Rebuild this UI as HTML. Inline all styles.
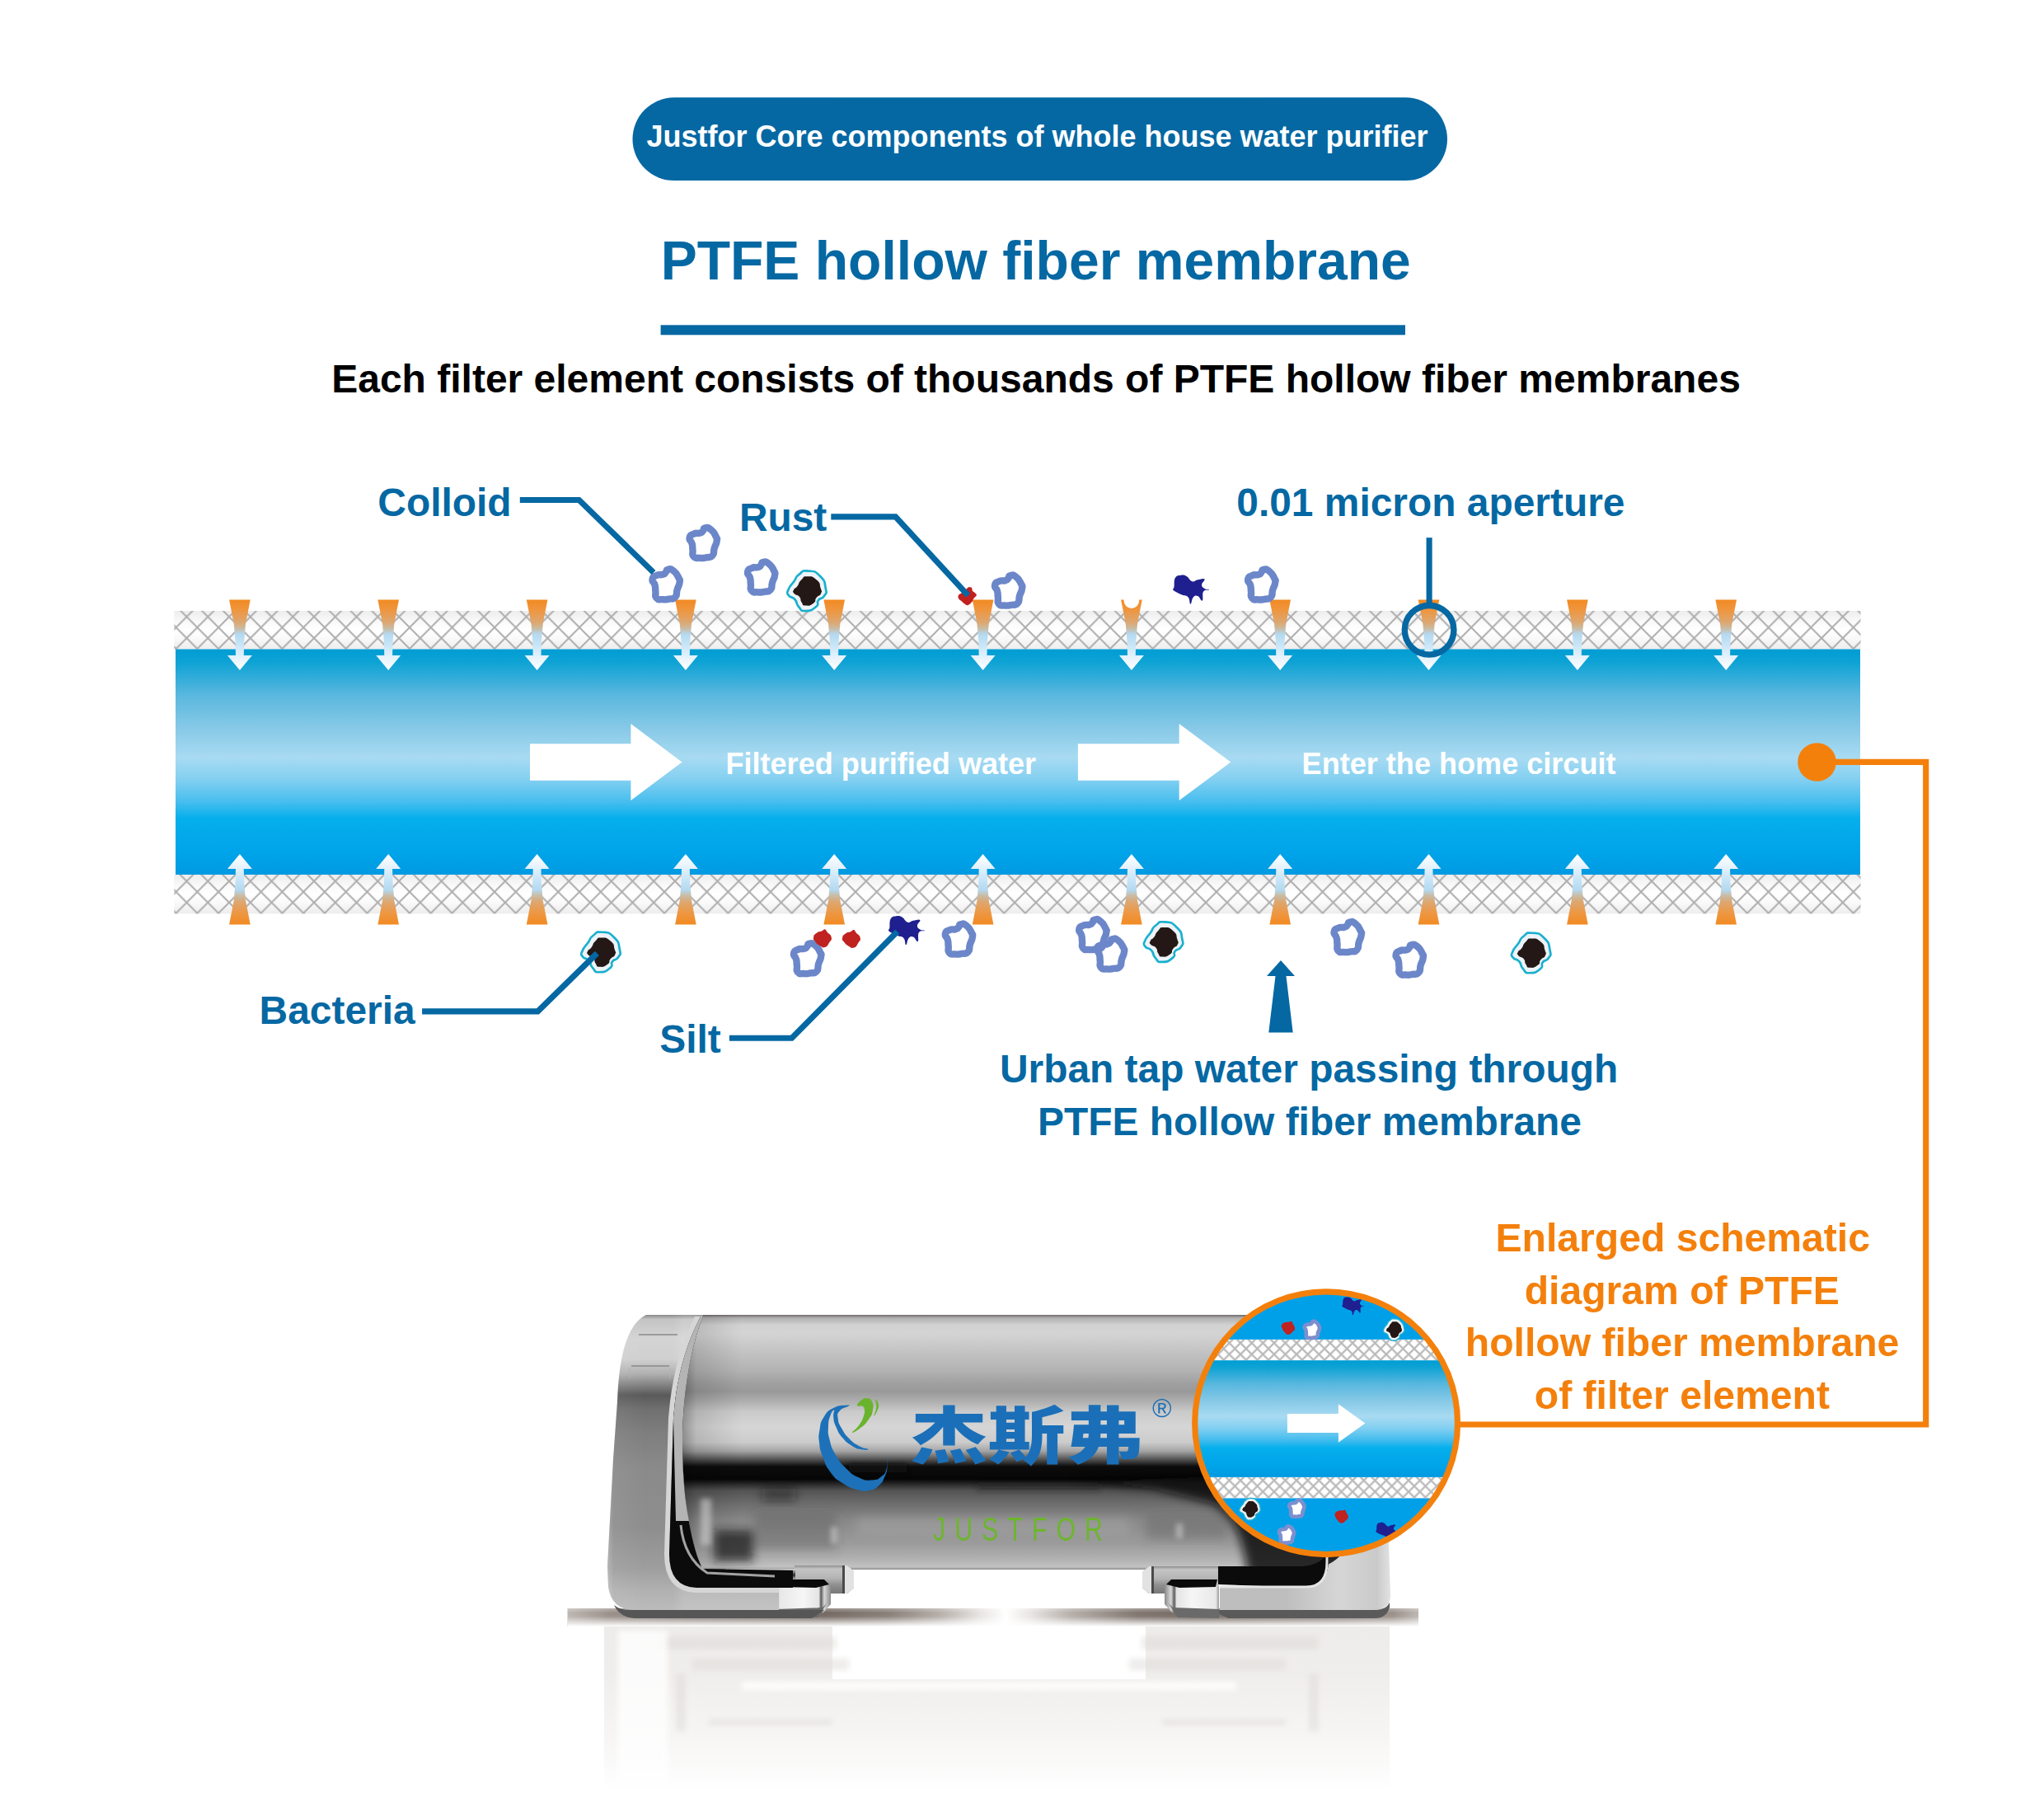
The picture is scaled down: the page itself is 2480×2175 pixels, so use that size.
<!DOCTYPE html>
<html><head><meta charset="utf-8"><title>PTFE hollow fiber membrane</title>
<style>html,body{margin:0;padding:0;background:#fff}body{width:2480px;height:2175px;overflow:hidden}
svg{display:block}text{font-family:"Liberation Sans","Noto Sans CJK SC",sans-serif;font-weight:bold}</style></head>
<body><svg width="2480" height="2175" viewBox="0 0 2480 2175">
<defs>
<path id="colloid" d="M2.66 -18.34 C5.95 -18.94 5.32 -19.73 9.59 -16.34 C13.87 -12.95 13.14 -12.82 15.48 -8.17 C17.83 -3.51 17.23 -7.22 16.62 -2.38 C16.02 2.47 15.42 0.51 13.68 6.37 C11.94 12.22 14.69 11.50 11.40 15.20 C8.11 18.90 9.06 16.53 3.80 17.48 C-1.46 18.43 0.70 18.43 -4.37 18.05 C-9.44 17.67 -8.68 19.63 -11.40 16.34 C-14.12 13.05 -11.87 13.43 -12.54 8.17 C-13.21 2.91 -12.13 5.42 -13.39 0.57 C-14.66 -4.27 -17.00 -2.47 -16.34 -6.37 C-15.67 -10.26 -15.58 -9.15 -11.40 -11.11 C-7.22 -13.08 -7.50 -11.11 -3.80 -12.25 C-0.10 -13.39 -2.44 -12.51 -0.28 -14.54 C1.87 -16.56 -0.63 -17.73 2.66 -18.34Z" fill="none" stroke="#6C87C9" stroke-width="8.4" stroke-linejoin="round"/>
<path id="colloidw" d="M2.66 -18.34 C5.95 -18.94 5.32 -19.73 9.59 -16.34 C13.87 -12.95 13.14 -12.82 15.48 -8.17 C17.83 -3.51 17.23 -7.22 16.62 -2.38 C16.02 2.47 15.42 0.51 13.68 6.37 C11.94 12.22 14.69 11.50 11.40 15.20 C8.11 18.90 9.06 16.53 3.80 17.48 C-1.46 18.43 0.70 18.43 -4.37 18.05 C-9.44 17.67 -8.68 19.63 -11.40 16.34 C-14.12 13.05 -11.87 13.43 -12.54 8.17 C-13.21 2.91 -12.13 5.42 -13.39 0.57 C-14.66 -4.27 -17.00 -2.47 -16.34 -6.37 C-15.67 -10.26 -15.58 -9.15 -11.40 -11.11 C-7.22 -13.08 -7.50 -11.11 -3.80 -12.25 C-0.10 -13.39 -2.44 -12.51 -0.28 -14.54 C1.87 -16.56 -0.63 -17.73 2.66 -18.34Z" fill="#fff" stroke="#7C8FCF" stroke-width="8.6" stroke-linejoin="round"/>
<g id="bac"><path d="M1.17 -24.27 C9.65 -23.61 8.55 -24.92 15.66 -18.00 C22.77 -11.09 20.81 -11.61 22.51 -3.52 C24.20 4.57 23.68 1.30 20.74 6.26 C17.81 11.22 16.96 7.05 13.70 11.35 C10.44 15.66 16.18 14.87 10.96 19.18 C5.74 23.48 5.09 24.27 -1.96 24.27 C-9.00 24.27 -5.87 23.88 -10.18 19.18 C-14.48 14.48 -10.83 14.74 -14.87 10.18 C-18.92 5.61 -19.70 9.39 -22.31 5.48 C-24.92 1.57 -24.92 4.17 -22.70 -1.57 C-20.48 -7.31 -19.96 -5.61 -15.66 -11.74 C-11.35 -17.87 -15.40 -15.79 -9.79 -19.96 C-4.17 -24.14 -7.31 -24.92 1.17 -24.27Z" fill="#EEF3F8" stroke="#1BB0CE" stroke-width="2.7"/><path d="M0.39 -17.61 C6.65 -17.61 6.39 -18.00 11.74 -13.31 C17.09 -8.61 14.74 -9.00 16.44 -3.52 C18.13 1.96 18.53 -0.78 16.83 3.13 C15.13 7.05 14.35 4.31 11.35 8.22 C8.35 12.13 12.26 11.68 7.83 14.87 C3.39 18.07 2.87 18.20 -1.96 17.81 C-6.78 17.42 -4.17 17.29 -6.65 13.70 C-9.13 10.11 -6.39 10.57 -9.39 7.05 C-12.39 3.52 -13.44 6.00 -15.66 3.13 C-17.87 0.26 -17.35 1.44 -16.05 -1.57 C-14.74 -4.57 -14.74 -1.96 -11.74 -5.87 C-8.74 -9.79 -11.09 -9.39 -7.05 -13.31 C-3.00 -17.22 -5.87 -17.61 0.39 -17.61Z" fill="#231815"/></g>
<path id="silt" d="M-19.20 -2.70 C-18.55 -5.99 -19.77 -10.24 -17.80 -13.70 C-15.83 -17.16 -14.29 -16.60 -11.00 -17.10 C-7.71 -17.60 -7.39 -17.60 -4.10 -15.80 C-0.81 -14.00 -0.59 -10.61 2.70 -9.60 C5.99 -8.59 5.98 -10.95 9.60 -11.60 C13.22 -12.25 16.65 -13.76 17.80 -12.30 C18.95 -10.84 14.40 -8.28 14.40 -5.50 C14.40 -2.72 15.66 -2.19 17.80 -0.70 C19.94 0.79 23.64 -0.12 23.30 0.70 C22.96 1.52 18.37 -0.42 16.40 2.70 C14.43 5.82 16.73 12.38 15.10 13.70 C13.47 15.02 12.24 9.18 9.60 8.20 C6.96 7.22 6.24 7.30 4.10 9.60 C1.96 11.90 2.19 17.80 0.70 17.80 C-0.79 17.80 0.37 12.24 -2.10 9.60 C-4.57 6.96 -5.83 8.46 -9.60 6.80 C-13.37 5.14 -15.18 4.33 -17.80 2.70 C-20.42 1.07 -20.16 1.30 -20.50 0.00 C-20.84 -1.30 -19.85 0.59 -19.20 -2.70Z" fill="#1F1F8F"/>
<path id="rust" d="M2.70 -11.00 C4.25 -11.00 4.69 -10.92 5.60 -9.80 C6.51 -8.68 5.06 -8.37 6.10 -6.80 C7.14 -5.23 8.19 -5.45 9.50 -3.90 C10.81 -2.35 11.51 -2.81 11.00 -1.00 C10.49 0.81 9.17 0.69 7.60 2.90 C6.03 5.11 6.94 5.19 5.10 7.30 C3.26 9.41 2.91 10.27 0.70 10.80 C-1.51 11.33 -1.12 10.61 -3.20 9.30 C-5.28 7.99 -5.15 7.61 -7.10 5.90 C-9.05 4.19 -9.51 4.74 -10.50 2.90 C-11.49 1.06 -11.44 0.68 -10.80 -1.00 C-10.16 -2.68 -10.13 -2.09 -8.10 -3.40 C-6.07 -4.71 -5.31 -4.19 -3.20 -5.90 C-1.09 -7.61 -1.77 -8.44 -0.20 -9.80 C1.37 -11.16 1.15 -11.00 2.70 -11.00Z" fill="#C0201E"/>
<path id="rust2" d="M3.20 -10.80 C5.09 -10.41 3.42 -10.45 5.70 -7.60 C7.98 -4.75 10.02 -5.11 10.80 -1.30 C11.58 2.51 10.58 1.47 8.30 5.10 C6.02 8.73 6.65 9.66 3.20 10.80 C-0.25 11.94 0.43 11.00 -3.20 8.90 C-6.83 6.80 -6.62 6.86 -8.90 3.80 C-11.18 0.74 -11.37 1.76 -10.80 -1.30 C-10.23 -4.36 -10.06 -4.12 -7.00 -6.40 C-3.94 -8.68 -3.66 -7.58 -0.60 -8.90 C2.46 -10.22 1.31 -11.19 3.20 -10.80Z" fill="#BF221F"/>
<pattern id="meshT" patternUnits="userSpaceOnUse" x="265.12" y="735.25" width="25.761" height="25.900"><path d="M0 0L25.761 25.900M25.761 0L0 25.900" stroke="#AEAEAE" stroke-width="2.0" fill="none"/></pattern>
<pattern id="meshB" patternUnits="userSpaceOnUse" x="265.12" y="1055.95" width="25.761" height="25.900"><path d="M0 0L25.761 25.900M25.761 0L0 25.900" stroke="#AEAEAE" stroke-width="2.0" fill="none"/></pattern>
<linearGradient id="bandbg" x1="0" y1="0" x2="0" y2="1"><stop offset="0" stop-color="#EDEDED"/><stop offset=".3" stop-color="#FAFAFA"/><stop offset=".5" stop-color="#FFFFFF"/><stop offset=".7" stop-color="#FAFAFA"/><stop offset="1" stop-color="#EDEDED"/></linearGradient>
<linearGradient id="pipe" x1="0" y1="0" x2="0" y2="1">
<stop offset="0" stop-color="#009DD3"/><stop offset=".06" stop-color="#0FA3D5"/><stop offset=".2" stop-color="#58B7DE"/>
<stop offset=".35" stop-color="#87C9E7"/><stop offset=".48" stop-color="#A8DBF2"/><stop offset=".58" stop-color="#82CFF1"/>
<stop offset=".68" stop-color="#45BDEE"/><stop offset=".75" stop-color="#05AFEC"/><stop offset=".9" stop-color="#00A4E9"/><stop offset="1" stop-color="#009AE2"/></linearGradient>
<linearGradient id="inT" gradientUnits="userSpaceOnUse" x1="0" y1="727.6" x2="0" y2="813">
<stop offset="0" stop-color="#F28A22"/><stop offset=".15" stop-color="#EE9640"/><stop offset=".32" stop-color="#DDA770"/><stop offset=".41" stop-color="#C9BCA6"/>
<stop offset=".49" stop-color="#B4D9F0"/><stop offset=".65" stop-color="#C9E6F8"/><stop offset=".82" stop-color="#E6F3FC"/><stop offset="1" stop-color="#FFFFFF"/></linearGradient>
<linearGradient id="cyl" gradientUnits="userSpaceOnUse" x1="0" y1="1595" x2="0" y2="1904"><stop offset="0" stop-color="#6E6868"/><stop offset="0.012" stop-color="#B0B0B0"/><stop offset="0.04" stop-color="#D2D2D2"/><stop offset="0.075" stop-color="#D4D4D4"/><stop offset="0.14" stop-color="#C4C4C4"/><stop offset="0.22" stop-color="#B2B2B2"/><stop offset="0.27" stop-color="#A0A0A0"/><stop offset="0.3" stop-color="#999999"/><stop offset="0.335" stop-color="#ACACAC"/><stop offset="0.38" stop-color="#CACACA"/><stop offset="0.44" stop-color="#D6D6D6"/><stop offset="0.5" stop-color="#CCCCCC"/><stop offset="0.535" stop-color="#A4A4A4"/><stop offset="0.567" stop-color="#545454"/><stop offset="0.595" stop-color="#0C0C0C"/><stop offset="0.645" stop-color="#060606"/><stop offset="0.665" stop-color="#2A2A2A"/><stop offset="0.69" stop-color="#545454"/><stop offset="0.75" stop-color="#717171"/><stop offset="0.81" stop-color="#8A8A8A"/><stop offset="0.9" stop-color="#9C9C9C"/><stop offset="0.96" stop-color="#B2B2B2"/><stop offset="0.99" stop-color="#C2C2C2"/><stop offset="1" stop-color="#8A8A8A"/></linearGradient>
<linearGradient id="cylEnd" gradientUnits="userSpaceOnUse" x1="826" y1="0" x2="900" y2="0">
<stop offset="0" stop-color="#000" stop-opacity=".35"/><stop offset=".25" stop-color="#000" stop-opacity=".12"/><stop offset="1" stop-color="#000" stop-opacity="0"/></linearGradient>
<linearGradient id="brkL" gradientUnits="userSpaceOnUse" x1="0" y1="1595" x2="0" y2="1953">
<stop offset="0" stop-color="#8A8A8A"/><stop offset=".015" stop-color="#C4C4C4"/><stop offset=".08" stop-color="#D4D4D4"/><stop offset=".15" stop-color="#D0D0D0"/>
<stop offset=".2" stop-color="#B0B0B0"/><stop offset=".24" stop-color="#808080"/><stop offset=".272" stop-color="#5A5A5A"/><stop offset=".32" stop-color="#707070"/>
<stop offset=".4" stop-color="#7E7E7E"/><stop offset=".52" stop-color="#8A8A8A"/><stop offset=".72" stop-color="#8E8E8E"/><stop offset=".86" stop-color="#9E9E9E"/><stop offset=".93" stop-color="#B0B0B0"/><stop offset="1" stop-color="#BCBCBC"/></linearGradient>
<linearGradient id="brkLh" gradientUnits="userSpaceOnUse" x1="735" y1="0" x2="830" y2="0">
<stop offset="0" stop-color="#fff" stop-opacity=".3"/><stop offset=".1" stop-color="#fff" stop-opacity=".06"/><stop offset=".5" stop-color="#fff" stop-opacity="0"/>
<stop offset=".85" stop-color="#fff" stop-opacity="0"/><stop offset="1" stop-color="#fff" stop-opacity=".12"/></linearGradient>
<linearGradient id="brkR" gradientUnits="userSpaceOnUse" x1="1560" y1="0" x2="1690" y2="0">
<stop offset="0" stop-color="#BEBEBE"/><stop offset=".5" stop-color="#D6D6D6"/><stop offset=".85" stop-color="#CACACA"/><stop offset="1" stop-color="#E6E6E6"/></linearGradient>
<linearGradient id="chrome" x1="0" y1="0" x2="0" y2="1">
<stop offset="0" stop-color="#F2F2F2"/><stop offset=".35" stop-color="#B8B8B8"/><stop offset=".6" stop-color="#E0E0E0"/><stop offset="1" stop-color="#6A6A6A"/></linearGradient>
<linearGradient id="chromeD" x1="0" y1="0" x2="0" y2="1">
<stop offset="0" stop-color="#D8D8D8"/><stop offset=".3" stop-color="#303030"/><stop offset=".55" stop-color="#C0C0C0"/><stop offset="1" stop-color="#505050"/></linearGradient>
<linearGradient id="floor" gradientUnits="userSpaceOnUse" x1="688.5" y1="0" x2="1721" y2="0"><stop offset="0.0000" stop-color="#BDB6B1"/><stop offset="0.0499" stop-color="#9A908A"/><stop offset="0.1564" stop-color="#857A74"/><stop offset="0.3017" stop-color="#746962"/><stop offset="0.3792" stop-color="#8A807A"/><stop offset="0.4373" stop-color="#B5AEA9"/><stop offset="0.4857" stop-color="#E8E5E3"/><stop offset="0.5148" stop-color="#FFFFFF"/><stop offset="0.5438" stop-color="#E8E5E3"/><stop offset="0.5923" stop-color="#B5AEA9"/><stop offset="0.6697" stop-color="#80756F"/><stop offset="0.7375" stop-color="#746962"/><stop offset="0.8828" stop-color="#857A74"/><stop offset="0.9700" stop-color="#9A908A"/><stop offset="1.0000" stop-color="#BDB6B1"/></linearGradient>
<linearGradient id="floorfade" x1="0" y1="0" x2="0" y2="1">
<stop offset="0" stop-color="#fff" stop-opacity=".3"/><stop offset=".25" stop-color="#fff" stop-opacity="0"/><stop offset=".45" stop-color="#fff" stop-opacity=".05"/><stop offset="1" stop-color="#fff" stop-opacity="1"/></linearGradient>
<linearGradient id="refl" gradientUnits="userSpaceOnUse" x1="0" y1="1972" x2="0" y2="2172">
<stop offset="0" stop-color="#EEECEA"/><stop offset=".3" stop-color="#F0EEEC"/><stop offset=".7" stop-color="#F7F6F5"/><stop offset="1" stop-color="#FFFFFF"/></linearGradient>
<linearGradient id="footB" x1="0" y1="0" x2="0" y2="1">
<stop offset="0" stop-color="#8E8E8E"/><stop offset=".12" stop-color="#C4C4C4"/><stop offset=".45" stop-color="#B4B4B4"/><stop offset=".7" stop-color="#8E8E8E"/><stop offset="1" stop-color="#787878"/></linearGradient>
<linearGradient id="footF" x1="0" y1="0" x2="1" y2="0">
<stop offset="0" stop-color="#9A9A9A"/><stop offset=".06" stop-color="#E8E8E8"/><stop offset=".5" stop-color="#F6F6F6"/><stop offset=".78" stop-color="#E4E4E4"/><stop offset=".82" stop-color="#5A5A5A"/><stop offset=".88" stop-color="#D8D8D8"/><stop offset="1" stop-color="#8A8A8A"/></linearGradient>
<filter id="b3" x="-20%" y="-50%" width="140%" height="200%"><feGaussianBlur stdDeviation="3"/></filter>
<filter id="b6" x="-20%" y="-50%" width="140%" height="200%"><feGaussianBlur stdDeviation="6"/></filter>
<filter id="b2" x="-20%" y="-50%" width="140%" height="200%"><feGaussianBlur stdDeviation="1.6"/></filter>
<clipPath id="cclip"><circle cx="1609.1" cy="1726.2" r="159.4"/></clipPath>
<pattern id="meshS" patternUnits="userSpaceOnUse" x="1498.30" y="1636.00" width="13.600" height="13.700"><path d="M0 0L13.600 13.700M13.600 0L0 13.700" stroke="#BABABA" stroke-width="2.3" fill="none"/></pattern>
<pattern id="meshS2" patternUnits="userSpaceOnUse" x="1498.30" y="1802.70" width="13.600" height="13.700"><path d="M0 0L13.600 13.700M13.600 0L0 13.700" stroke="#BABABA" stroke-width="2.3" fill="none"/></pattern>
</defs>
<rect x="767.5" y="118.3" width="988.5" height="100.8" rx="50.4" fill="#0568A3"/>
<text x="1258.5" y="178.4" font-size="36" fill="#fff" text-anchor="middle">Justfor Core components of whole house water purifier</text>
<text x="1256.7" y="339.4" font-size="66.05" fill="#0568A3" text-anchor="middle">PTFE hollow fiber membrane</text>
<rect x="801.6" y="394.3" width="903.4" height="12" fill="#0568A3"/>
<text x="1257" y="476.2" font-size="48" fill="#000" text-anchor="middle">Each filter element consists of thousands of PTFE hollow fiber membranes</text>
<rect x="211.3" y="741.0" width="2046.2" height="46.5" fill="url(#bandbg)"/>
<rect x="211.3" y="741.0" width="2046.2" height="46.5" fill="url(#meshT)"/>
<rect x="211.3" y="1061.0" width="2046.2" height="47.3" fill="url(#bandbg)"/>
<rect x="211.3" y="1061.0" width="2046.2" height="47.3" fill="url(#meshB)"/>
<rect x="213.0" y="787.5" width="2044.0" height="273.5" fill="url(#pipe)"/>
<g fill="url(#inT)"><path d="M278.1 727.6 L303.7 727.6 L298.0 757 L296.2 778.5 L295.8 795.1 L305.9 795.1 L290.9 812.9 L275.9 795.1 L286.0 795.1 L285.6 778.5 L283.8 757Z"/><path d="M458.4 727.6 L484.0 727.6 L478.3 757 L476.5 778.5 L476.1 795.1 L486.2 795.1 L471.2 812.9 L456.2 795.1 L466.3 795.1 L465.9 778.5 L464.1 757Z"/><path d="M638.8 727.6 L664.4 727.6 L658.7 757 L656.9 778.5 L656.5 795.1 L666.6 795.1 L651.6 812.9 L636.6 795.1 L646.7 795.1 L646.3 778.5 L644.5 757Z"/><path d="M819.1 727.6 L844.7 727.6 L839.0 757 L837.2 778.5 L836.8 795.1 L846.9 795.1 L831.9 812.9 L816.9 795.1 L827.0 795.1 L826.6 778.5 L824.8 757Z"/><path d="M999.4 727.6 L1025.0 727.6 L1019.3 757 L1017.5 778.5 L1017.1 795.1 L1027.2 795.1 L1012.2 812.9 L997.2 795.1 L1007.3 795.1 L1006.9 778.5 L1005.1 757Z"/><path d="M1179.8 727.6 L1205.4 727.6 L1199.7 757 L1197.9 778.5 L1197.5 795.1 L1207.6 795.1 L1192.6 812.9 L1177.6 795.1 L1187.7 795.1 L1187.3 778.5 L1185.5 757Z"/><path d="M1360.1 727.6 L1363.4 727.6 A9.5 10.5 0 0 0 1382.4 727.6 L1385.7 727.6 L1380.0 757 L1378.2 778.5 L1377.8 795.1 L1387.9 795.1 L1372.9 812.9 L1357.9 795.1 L1368.0 795.1 L1367.6 778.5 L1365.8 757Z"/><path d="M1540.4 727.6 L1566.0 727.6 L1560.3 757 L1558.5 778.5 L1558.1 795.1 L1568.2 795.1 L1553.2 812.9 L1538.2 795.1 L1548.3 795.1 L1547.9 778.5 L1546.1 757Z"/><path d="M1720.7 727.6 L1746.3 727.6 L1740.6 757 L1738.8 778.5 L1738.4 795.1 L1748.5 795.1 L1733.5 812.9 L1718.5 795.1 L1728.6 795.1 L1728.2 778.5 L1726.4 757Z"/><path d="M1901.1 727.6 L1926.7 727.6 L1921.0 757 L1919.2 778.5 L1918.8 795.1 L1928.9 795.1 L1913.9 812.9 L1898.9 795.1 L1909.0 795.1 L1908.6 778.5 L1906.8 757Z"/><path d="M2081.4 727.6 L2107.0 727.6 L2101.3 757 L2099.5 778.5 L2099.1 795.1 L2109.2 795.1 L2094.2 812.9 L2079.2 795.1 L2089.3 795.1 L2088.9 778.5 L2087.1 757Z"/></g>
<g fill="url(#inT)" transform="translate(0 1849) scale(1 -1)"><path d="M278.1 727.6 L303.7 727.6 L298.0 757 L296.2 778.5 L295.8 795.1 L305.9 795.1 L290.9 812.9 L275.9 795.1 L286.0 795.1 L285.6 778.5 L283.8 757Z"/><path d="M458.4 727.6 L484.0 727.6 L478.3 757 L476.5 778.5 L476.1 795.1 L486.2 795.1 L471.2 812.9 L456.2 795.1 L466.3 795.1 L465.9 778.5 L464.1 757Z"/><path d="M638.8 727.6 L664.4 727.6 L658.7 757 L656.9 778.5 L656.5 795.1 L666.6 795.1 L651.6 812.9 L636.6 795.1 L646.7 795.1 L646.3 778.5 L644.5 757Z"/><path d="M819.1 727.6 L844.7 727.6 L839.0 757 L837.2 778.5 L836.8 795.1 L846.9 795.1 L831.9 812.9 L816.9 795.1 L827.0 795.1 L826.6 778.5 L824.8 757Z"/><path d="M999.4 727.6 L1025.0 727.6 L1019.3 757 L1017.5 778.5 L1017.1 795.1 L1027.2 795.1 L1012.2 812.9 L997.2 795.1 L1007.3 795.1 L1006.9 778.5 L1005.1 757Z"/><path d="M1179.8 727.6 L1205.4 727.6 L1199.7 757 L1197.9 778.5 L1197.5 795.1 L1207.6 795.1 L1192.6 812.9 L1177.6 795.1 L1187.7 795.1 L1187.3 778.5 L1185.5 757Z"/><path d="M1360.1 727.6 L1385.7 727.6 L1380.0 757 L1378.2 778.5 L1377.8 795.1 L1387.9 795.1 L1372.9 812.9 L1357.9 795.1 L1368.0 795.1 L1367.6 778.5 L1365.8 757Z"/><path d="M1540.4 727.6 L1566.0 727.6 L1560.3 757 L1558.5 778.5 L1558.1 795.1 L1568.2 795.1 L1553.2 812.9 L1538.2 795.1 L1548.3 795.1 L1547.9 778.5 L1546.1 757Z"/><path d="M1720.7 727.6 L1746.3 727.6 L1740.6 757 L1738.8 778.5 L1738.4 795.1 L1748.5 795.1 L1733.5 812.9 L1718.5 795.1 L1728.6 795.1 L1728.2 778.5 L1726.4 757Z"/><path d="M1901.1 727.6 L1926.7 727.6 L1921.0 757 L1919.2 778.5 L1918.8 795.1 L1928.9 795.1 L1913.9 812.9 L1898.9 795.1 L1909.0 795.1 L1908.6 778.5 L1906.8 757Z"/><path d="M2081.4 727.6 L2107.0 727.6 L2101.3 757 L2099.5 778.5 L2099.1 795.1 L2109.2 795.1 L2094.2 812.9 L2079.2 795.1 L2089.3 795.1 L2088.9 778.5 L2087.1 757Z"/></g>
<path d="M643 902.2L765.4 902.2L765.4 878.0L827.5 924.5L765.4 971.0L765.4 946.8L643 946.8Z" fill="#fff"/>
<path d="M1307.9 902.2L1430.7 902.2L1430.7 878.0L1493.3 924.5L1430.7 971.0L1430.7 946.8L1307.9 946.8Z" fill="#fff"/>
<text x="880.5" y="939.3" font-size="36.05" fill="#fff">Filtered purified water</text>
<text x="1579.6" y="939.2" font-size="36.1" fill="#fff">Enter the home circuit</text>
<use href="#colloid" transform="translate(807.9 709.1)"/>
<use href="#colloid" transform="translate(853.0 658.8)"/>
<use href="#colloid" transform="translate(923.4 700.3)"/>
<use href="#colloid" transform="translate(1223.4 716.4)"/>
<use href="#colloid" transform="translate(1530.5 709.3)"/>
<use href="#bac" transform="translate(979.2 716.8)"/>
<use href="#rust" transform="translate(1173.7 723.3)"/>
<use href="#silt" transform="translate(1443.7 714.8)"/>
<use href="#bac" transform="translate(729.3 1155.0)"/>
<use href="#colloid" transform="translate(979.4 1163.0)"/>
<use href="#rust2" transform="translate(997.9 1138.2)"/>
<use href="#rust2" transform="translate(1032.9 1138.8)"/>
<use href="#silt" transform="translate(1098.5 1128.3)"/>
<use href="#colloid" transform="translate(1163.2 1139.4)"/>
<use href="#colloid" transform="translate(1325.6 1133.9)"/>
<use href="#colloid" transform="translate(1347.3 1157.4)"/>
<use href="#bac" transform="translate(1411.9 1142.7)"/>
<use href="#colloid" transform="translate(1635.0 1136.9)"/>
<use href="#colloid" transform="translate(1710.0 1164.5)"/>
<use href="#bac" transform="translate(1858.0 1156.0)"/>
<g fill="none" stroke="#0568A3" stroke-width="7.1"><path d="M630.8 606.5L702.5 606.5L793 694.5"/><path d="M1008.3 626.9L1086.5 626.9L1174.6 722.3"/><path d="M1734.1 652.2L1734.1 735"/><path d="M512.1 1226.9L652.5 1226.9L724.4 1156.4"/><path d="M884.9 1259.2L960.7 1259.2L1088.8 1129.9"/></g>
<circle cx="1734.1" cy="764.3" r="29.8" fill="none" stroke="#0568A3" stroke-width="7.4"/>
<g font-size="47.9" fill="#0568A3"><text x="458.3" y="626.3">Colloid</text><text x="896.9" y="643.5">Rust</text><text x="1500.3" y="626">0.01 micron aperture</text><text x="314.6" y="1241.5">Bacteria</text><text x="800.3" y="1277.3">Silt</text><text x="1588.1" y="1313.4" text-anchor="middle">Urban tap water passing through</text><text x="1589" y="1377" text-anchor="middle">PTFE hollow fiber membrane</text></g>
<path d="M1554 1165L1571 1184L1560.5 1184L1568.7 1252.5L1539.3 1252.5L1547.5 1184L1537 1184Z" fill="#0568A3"/>
<path d="M733 1973L1010 1973L1010 2037L1390 2037L1390 1973L1686 1973L1686 2172L733 2172Z" fill="url(#refl)"/>
<g filter="url(#b3)" fill="#DAD7D4" opacity=".45"><rect x="800" y="1985" width="215" height="16"/><rect x="840" y="2012" width="190" height="14"/><rect x="1385" y="1985" width="215" height="16"/><rect x="1370" y="2012" width="190" height="14"/><rect x="820" y="2030" width="12" height="70"/><rect x="1588" y="2030" width="12" height="70"/><rect x="860" y="2085" width="150" height="8"/><rect x="1410" y="2085" width="150" height="8"/></g>
<g filter="url(#b3)" fill="#fff" opacity=".8"><rect x="750" y="1978" width="60" height="180"/><rect x="900" y="2040" width="600" height="10"/></g>
<rect x="688.5" y="1951" width="1032.5" height="22" fill="url(#floor)"/>
<rect x="688.5" y="1951" width="1032.5" height="22" fill="url(#floorfade)"/>
<path d="M1560 1595L1650 1595Q1676 1600 1678 1640L1687 1935Q1687 1952 1668 1953L1480 1953L1480 1925L1585 1925Q1610 1925 1610 1895Z" fill="url(#brkR)"/>
<path d="M1470 1953L1672 1953Q1682 1952 1686 1944L1686 1950Q1682 1963 1668 1963L1490 1963Z" fill="#5A5A5A"/>
<path d="M852 1595L1640 1595L1640 1850Q1636 1904 1578 1904L852 1904C838 1880 827 1820 827 1750C827 1690 838 1630 852 1595Z" fill="url(#cyl)"/>
<path d="M852 1595L1640 1595L1640 1850Q1636 1904 1578 1904L852 1904C838 1880 827 1820 827 1750C827 1690 838 1630 852 1595Z" fill="url(#cylEnd)"/>
<g filter="url(#b6)"><rect x="866" y="1856" width="48" height="38" fill="#1E1E1E" opacity=".75"/><rect x="915" y="1836" width="100" height="44" fill="#4A4A4A" opacity=".3"/><rect x="1040" y="1840" width="330" height="22" fill="#B0B0B0" opacity=".35"/><rect x="1390" y="1838" width="100" height="30" fill="#5A5A5A" opacity=".35"/><rect x="925" y="1806" width="40" height="14" fill="#101010" opacity=".5"/></g>
<g filter="url(#b3)" fill="#D0D0D0" opacity=".6"><rect x="850" y="1818" width="13" height="56"/><rect x="1008" y="1852" width="8" height="20"/><rect x="1427" y="1848" width="8" height="18"/></g>
<defs><clipPath id="cylclip"><path d="M852 1595L1640 1595L1640 1850Q1636 1904 1578 1904L852 1904C838 1880 827 1820 827 1750C827 1690 838 1630 852 1595Z"/></clipPath></defs>
<g clip-path="url(#cylclip)"><path d="M1300 1797L1400 1806L1470 1824Q1506 1842 1514 1912L1660 1912L1660 1785Z" fill="#0A0A0A" opacity=".85" filter="url(#b6)"/></g>
<g filter="url(#b3)"><rect x="1030" y="1776" width="70" height="10" fill="#111" opacity=".7"/><rect x="1185" y="1800" width="150" height="8" fill="#222" opacity=".5"/></g>
<path d="M964 1899L1028 1899L1036 1906L1036 1926L1028 1933L964 1933Z" fill="url(#footB)"/>
<path d="M1024 1899L1028 1899L1036 1906L1036 1926L1028 1933L1024 1933Z" fill="#E2E2E2"/><path d="M1022 1899L1025 1899L1025 1933L1022 1933Z" fill="#4A4A4A"/>
<path d="M880 1903L965 1903L965 1921L880 1928Z" fill="url(#chromeD)"/>
<path d="M942 1926L944 1916L1000 1916L1008 1924L1008 1946L998 1957L942 1953Z" fill="url(#footF)"/>
<path d="M944 1916L1000 1916L1006 1922L990 1926L946 1925Z" fill="#0A0A0A"/>
<path d="M942 1952L998 1950L1003 1945L992 1962L942 1963Z" fill="#6A6A6A"/>
<path d="M778 1595L853 1595C839 1630 828 1690 828 1750C828 1800 834 1850 846 1888L852 1905L850 1926L945 1926L945 1953L768 1953Q742 1952 738 1925L737 1900L744 1770L749 1700Q752 1610 784 1595Z" fill="url(#brkL)"/>
<path d="M778 1595L853 1595C839 1630 828 1690 828 1750C828 1800 834 1850 846 1888L852 1905L850 1926L945 1926L945 1953L768 1953Q742 1952 738 1925L737 1900L744 1770L749 1700Q752 1610 784 1595Z" fill="url(#brkLh)"/>
<path d="M850 1597C834 1628 824 1660 819 1700L817 1720L812 1885Q812 1925 845 1926L945 1926L945 1932L843 1932Q806 1930 806 1885L811 1720L813 1700C818 1660 828 1628 843 1597Z" fill="#D6D6D6"/>
<path d="M853 1597C839 1630 828 1690 828 1750C828 1800 834 1850 846 1888L852 1903L962 1905L962 1926L845 1926Q812 1925 812 1885L817 1720L819 1700C824 1660 834 1628 850 1597Z" fill="#0B0B0B"/>
<path d="M853 1597C839 1630 828 1690 828 1750C828 1790 831 1820 836 1845L820 1845L817 1720L819 1700C824 1660 834 1628 850 1597Z" fill="#B4B4B4"/>
<path d="M826 1850Q830 1890 858 1908L940 1912" fill="none" stroke="#C8C8C8" stroke-width="3" opacity=".8"/>
<path d="M745 1947Q752 1953 765 1953L1000 1953L985 1963L770 1963Q752 1962 745 1947Z" fill="#565656"/>
<g stroke="#8A8A8A" stroke-width="1.6" fill="none"><path d="M775 1619L822 1619"/><path d="M766 1657L812 1657"/><path d="M764 1659L764 1672M813 1659L813 1672" stroke="#B2B2B2" stroke-width="1"/></g>
<path d="M1478 1900L1394 1900L1386 1907L1386 1926L1394 1933L1478 1933Z" fill="url(#footB)"/>
<path d="M1398 1900L1394 1900L1386 1907L1386 1926L1394 1933L1398 1933Z" fill="#E2E2E2"/><path d="M1397 1900L1400 1900L1400 1933L1397 1933Z" fill="#4A4A4A"/>
<path d="M1478 1900L1580 1900Q1606 1898 1612 1880L1612 1895Q1610 1925 1585 1926L1478 1922Z" fill="#0B0B0B"/>
<path d="M1480 1925L1585 1925Q1610 1925 1610 1895L1610 1880" fill="none" stroke="#E4E4E4" stroke-width="3"/>
<g transform="translate(2421 0) scale(-1 1)"><path d="M942 1926L944 1916L1000 1916L1008 1924L1008 1946L998 1957L942 1953Z" fill="url(#footF)"/><path d="M944 1916L1000 1916L1006 1922L990 1926L946 1925Z" fill="#0A0A0A"/><path d="M942 1952L998 1950L1003 1945L992 1962L942 1963Z" fill="#6A6A6A"/></g>
<path d="M1026.84 1704.59 C1021.81 1705.25 1018.88 1704.06 1011.23 1708.11 C1003.58 1712.15 1004.22 1711.60 999.52 1719.04 C994.82 1726.47 995.97 1725.91 994.44 1734.65 C992.91 1743.39 993.07 1741.52 994.05 1750.26 C995.04 1759.01 994.24 1756.04 997.96 1765.88 C1001.67 1775.71 1000.33 1775.99 1007.32 1785.39 C1014.32 1794.79 1013.54 1793.33 1022.94 1799.45 C1032.34 1805.57 1032.15 1804.85 1040.89 1807.25 C1049.64 1809.66 1047.17 1809.35 1054.17 1808.03 C1061.16 1806.72 1060.41 1807.38 1065.88 1802.57 C1071.34 1797.76 1070.62 1797.85 1073.68 1790.86 C1076.74 1783.86 1075.93 1783.93 1076.81 1777.59 C1077.68 1771.25 1077.13 1767.13 1076.81 1768.22 C1076.48 1769.31 1077.60 1775.15 1075.64 1781.49 C1073.67 1787.83 1074.70 1786.92 1069.78 1790.86 C1064.86 1794.79 1065.72 1795.11 1058.07 1795.54 C1050.42 1795.98 1051.20 1796.36 1042.46 1792.42 C1033.71 1788.49 1034.93 1789.36 1026.84 1781.49 C1018.75 1773.62 1019.25 1774.15 1013.57 1764.32 C1007.89 1754.48 1008.95 1755.76 1006.54 1746.36 C1004.14 1736.96 1004.76 1738.83 1004.98 1730.75 C1005.20 1722.66 1005.36 1723.16 1007.32 1717.47 C1009.29 1711.79 1010.92 1710.01 1012.01 1710.45 C1013.10 1710.88 1010.57 1713.35 1011.23 1719.04 C1011.88 1724.72 1011.29 1723.75 1014.35 1730.75 C1017.41 1737.74 1016.91 1737.68 1022.16 1744.02 C1027.40 1750.36 1026.97 1749.45 1033.09 1753.39 C1039.21 1757.32 1038.33 1756.76 1044.02 1758.07 C1049.70 1759.38 1053.82 1759.16 1053.39 1758.07 C1052.95 1756.98 1048.80 1757.66 1042.46 1754.17 C1036.12 1750.67 1036.65 1751.48 1030.75 1745.58 C1024.84 1739.68 1025.31 1740.08 1021.38 1733.09 C1017.44 1726.09 1017.35 1726.72 1016.69 1720.60 C1016.04 1714.48 1015.54 1715.38 1019.03 1711.23 C1022.53 1707.07 1027.00 1707.62 1029.18 1705.76 C1031.37 1703.91 1031.87 1703.94 1026.84 1704.59Z" fill="#1D71B8"/>
<path d="M1040.11 1704.98 C1039.68 1703.02 1041.52 1701.25 1044.80 1698.74 C1048.08 1696.22 1048.11 1695.57 1051.82 1696.00 C1055.54 1696.44 1056.10 1696.04 1058.07 1700.30 C1060.04 1704.56 1059.94 1705.33 1058.85 1711.23 C1057.76 1717.13 1058.10 1715.69 1054.17 1721.38 C1050.23 1727.06 1050.48 1726.94 1044.80 1731.53 C1039.11 1736.12 1034.52 1738.65 1033.87 1737.77 C1033.21 1736.90 1038.52 1734.09 1042.46 1728.40 C1046.39 1722.72 1046.17 1722.72 1047.92 1717.47 C1049.67 1712.23 1049.14 1712.95 1048.70 1709.67 C1048.26 1706.39 1048.76 1707.07 1046.36 1705.76 C1043.95 1704.45 1040.55 1706.95 1040.11 1704.98Z" fill="#6AB42D"/><path d="M1061.97 1697.57 C1062.74 1697.57 1065.22 1699.60 1065.88 1703.42 C1066.53 1707.25 1065.85 1707.29 1064.32 1711.23 C1062.79 1715.16 1060.85 1717.91 1060.41 1717.47 C1059.97 1717.04 1061.99 1713.60 1062.75 1709.67 C1063.52 1705.73 1063.36 1706.81 1063.14 1703.42 C1062.93 1700.03 1061.21 1697.57 1061.97 1697.57Z" fill="#6AB42D"/>
<text transform="translate(1104.5 1768.5) scale(1.254 1)" font-size="75" fill="#1B6FB8" style="font-weight:900">杰斯弗</text>
<text x="1409.7" y="1719" font-size="32" fill="#1B6FB8" text-anchor="middle" style="font-weight:normal">®</text>
<text transform="translate(1132 1869) scale(.74 1)" font-size="41" fill="#6DB52F" letter-spacing="14.9" style="font-weight:normal">JUSTFOR</text>
<g clip-path="url(#cclip)"><rect x="1440" y="1560" width="340" height="335" fill="#00A0E9"/><rect x="1440" y="1624.9" width="340" height="25.5" fill="#FFFFFF"/><rect x="1440" y="1624.9" width="340" height="25.5" fill="url(#meshS)"/><rect x="1440" y="1791.7" width="340" height="25.7" fill="#FFFFFF"/><rect x="1440" y="1791.7" width="340" height="25.7" fill="url(#meshS2)"/><rect x="1440" y="1650.4" width="340" height="141.3" fill="url(#pipe)"/><path d="M1561.9 1714.9L1623.9 1714.9L1623.9 1703.2L1656.4 1726.5L1623.9 1749.8L1623.9 1738.1L1561.9 1738.1Z" fill="#fff"/><use href="#silt" transform="translate(1641.0 1584.2) scale(0.62)"/><use href="#rust2" transform="translate(1562.9 1610.3) rotate(15) scale(0.76)"/><use href="#colloidw" transform="translate(1591.7 1613.0) scale(0.55)"/><use href="#bac" transform="translate(1691.3 1613.0) scale(0.55)"/><use href="#bac" transform="translate(1516.7 1830.8) scale(0.55)"/><use href="#colloidw" transform="translate(1573.2 1829.8) scale(0.55)"/><use href="#rust2" transform="translate(1627.6 1839.0) rotate(15) scale(0.76)"/><use href="#colloidw" transform="translate(1560.8 1861.6) scale(0.55)"/><use href="#silt" transform="translate(1682.0 1857.5) scale(0.62)"/></g>
<circle cx="1609.1" cy="1726.2" r="159.4" fill="none" stroke="#F4800C" stroke-width="7.2"/>
<circle cx="2204.5" cy="924.5" r="23.3" fill="#F4800C"/>
<path d="M2204.5 924.3L2336.7 924.3L2336.7 1728L1770 1728" fill="none" stroke="#F4800C" stroke-width="7.2"/>
<g font-size="48.1" fill="#F4800C" text-anchor="middle"><text x="2041.7" y="1517.5">Enlarged schematic</text><text x="2040.8" y="1582.1">diagram of PTFE</text><text x="2041.1" y="1645.4">hollow fiber membrane</text><text x="2040.9" y="1709">of filter element</text></g>
</svg></body></html>
